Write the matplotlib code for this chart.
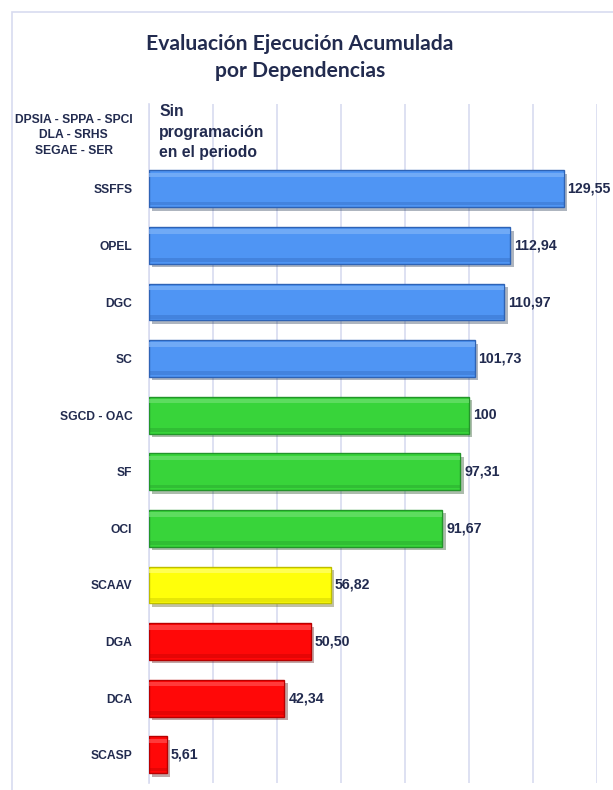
import matplotlib
matplotlib.use("Agg")
import matplotlib.pyplot as plt
import matplotlib.patheffects as pe
from matplotlib.patches import Rectangle

# datos de la grafica (de arriba hacia abajo)
dependencias = ["DPSIA - SPPA - SPCI\nDLA - SRHS\nSEGAE - SER", "SSFFS", "OPEL", "DGC", "SC",
                "SGCD - OAC", "SF", "OCI", "SCAAV", "DGA", "DCA", "SCASP"]
ejecucion = [None, 129.55, 112.94, 110.97, 101.73, 100, 97.31, 91.67, 56.82, 50.50, 42.34, 5.61]
nota_sin_prog = "Sin\nprogramación\nen el periodo"
titulo = "Evaluación Ejecución Acumulada\npor Dependencias"

navy = "#222B4F"
grid_col = "#D8DBF0"


def semaforo(v):
    # color segun rango de ejecucion
    if v > 100:
        return "#4F95F4", "#2E63B5", "#7FB3F8"
    if v >= 90:
        return "#38D43A", "#23952A", "#6EE070"
    if v >= 55:
        return "#FFFF0A", "#BDBD00", "#FFFF70"
    return "#FF0808", "#B80000", "#FF5050"


def etiqueta(v):
    if float(v).is_integer():
        return str(int(v))
    return f"{v:.2f}".replace(".", ",")


fig = plt.figure(figsize=(6.13, 7.9), dpi=100)
W, H = 613, 790
ax = fig.add_axes([149 / W, (H - 783) / H, (597 - 149) / W, (783 - 104) / H])

# marco exterior
fig.add_artist(Rectangle((12 / W, -0.05), 1.0, (H - 12) / H + 0.05, transform=fig.transFigure,
                         fill=False, edgecolor=grid_col, lw=1.2))

fig.text(300 / W, 1 - 57.5 / H, titulo, ha="center", va="center", fontsize=15.2,
         fontweight="bold", family="Lato", color=navy, linespacing=1.45)

h = 0.65
for i, v in enumerate(ejecucion):
    if v is None:
        continue
    base, borde, luz = semaforo(v)
    ax.barh(i, v, height=h, color=base, edgecolor=borde, linewidth=1.0, zorder=3,
            path_effects=[pe.SimplePatchShadow(offset=(2.5, -2.5), alpha=0.35), pe.Normal()])
    # brillo superior y sombra inferior para el efecto biselado
    ax.barh(i - h * 0.38, v, height=h * 0.12, color=luz, linewidth=0, zorder=4, alpha=0.7)
    ax.barh(i + h * 0.40, v, height=h * 0.10, color=borde, linewidth=0, zorder=4, alpha=0.35)
    ax.text(v, i, etiqueta(v), ha="left", va="center", fontsize=10.2, fontweight="bold",
            family="Liberation Sans", color=navy, zorder=5, clip_on=False,
            transform=ax.transData + matplotlib.transforms.ScaledTranslation(4 / 100, 0, fig.dpi_scale_trans))

ax.text(3.2, 0, nota_sin_prog, ha="left", va="center", fontsize=11.3, fontweight="bold",
        family="Liberation Sans", color=navy, linespacing=1.45, zorder=5)

ax.set_xlim(0, 140)
ax.set_ylim(len(dependencias) - 0.5, -0.5)
ax.set_xticks(range(0, 141, 20))
ax.set_xticklabels([])
ax.set_yticks(range(len(dependencias)))
ax.set_yticklabels(dependencias, fontsize=8.7, fontweight="bold", family="Liberation Sans",
                   color=navy)
for t in ax.get_yticklabels():
    t.set_multialignment("center")
    t.set_linespacing(1.35)
ax.tick_params(axis="both", length=0, pad=12)
ax.grid(axis="x", color=grid_col, lw=1.2, zorder=0)
for s in ["top", "right", "bottom"]:
    ax.spines[s].set_visible(False)
ax.spines["left"].set_color(grid_col)
ax.spines["left"].set_linewidth(1.2)

fig.savefig("out.png", dpi=100)
